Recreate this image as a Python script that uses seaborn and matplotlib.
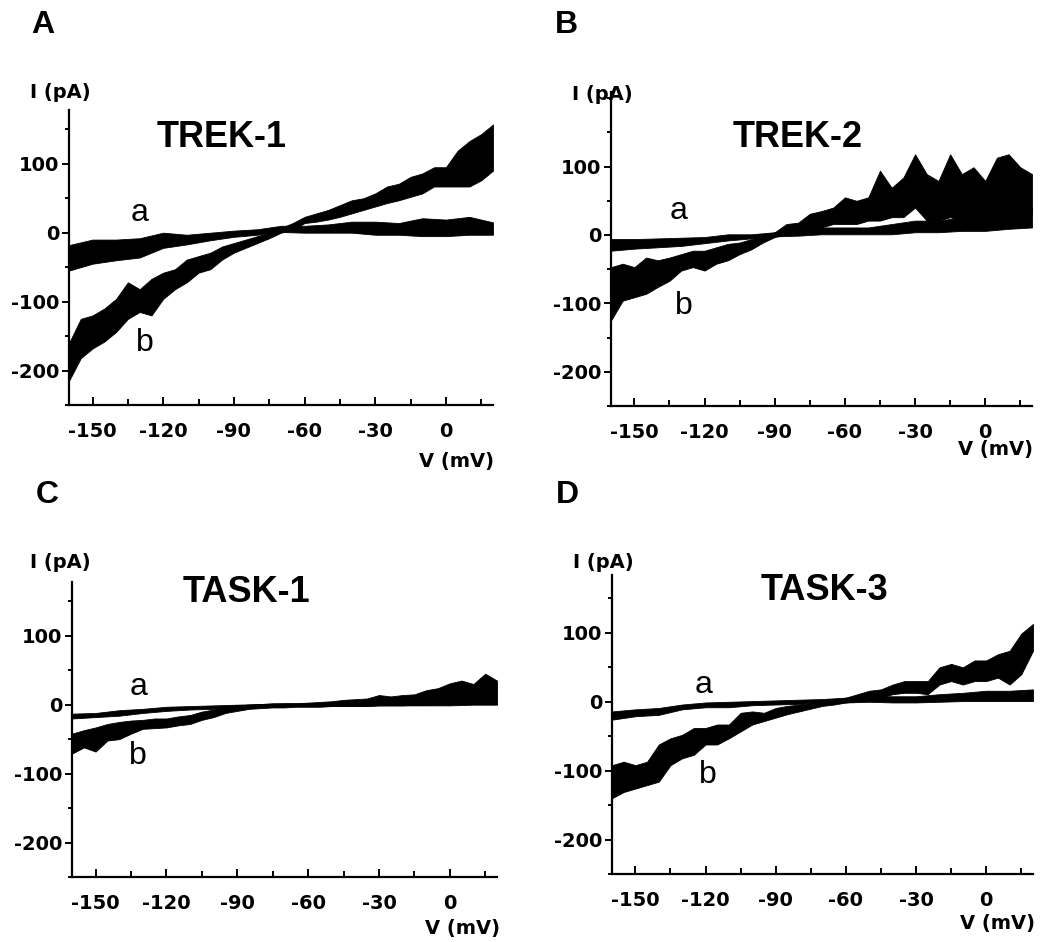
import numpy as np
import pandas as pd
import matplotlib
matplotlib.use('Agg')
import matplotlib.pyplot as plt
import seaborn as sns
from matplotlib.ticker import MultipleLocator


# voltage grids (mV)
V_COARSE = np.arange(-160, 21, 10)   # control traces "a"
V_FINE = np.arange(-160, 21, 5)      # noisy traces "b"

# each trace is stored as the lower / upper edge of the noisy record (pA)
TREK1_A_LO = [-55, -45, -40, -36, -22, -17, -11, -6, -3, 1, 0, 0, 0, -3, -3, -5, -5, -3, -3]
TREK1_A_HI = [-18, -10, -10, -8, 0, -3, 0, 3, 5, 10, 10, 12, 16, 16, 14, 21, 19, 23, 15]
TREK1_B_LO = [-215, -182, -168, -158, -144, -125, -115, -120, -96, -82, -72, -58, -53,
              -39, -29, -22, -15, -8, 0, 4, 14, 16, 19, 23, 28, 33, 38, 43, 47, 52,
              57, 67, 67, 67, 67, 76, 90]
TREK1_B_HI = [-160, -125, -120, -110, -96, -72, -82, -67, -58, -53, -39, -34, -29,
              -20, -15, -10, -5, 0, 7, 14, 23, 28, 33, 40, 47, 50, 57, 67, 71, 81,
              86, 95, 95, 119, 133, 143, 157]

TREK2_A_LO = [-23, -20, -18, -16, -12, -8, -5, -2, -1, 1, 1, 1, 1, 4, 4, 6, 6, 9, 11]
TREK2_A_HI = [-6, -6, -5, -4, -3, 1, 1, 4, 6, 11, 11, 11, 16, 21, 21, 26, 30, 35, 40]
TREK2_B_LO = [-125, -96, -91, -86, -76, -67, -52, -47, -52, -42, -37, -28, -21,
              -11, -3, 1, 6, 6, 11, 16, 16, 16, 21, 21, 26, 26, 40, 21, 21, 26,
              21, 21, 21, 26, 26, 26, 31]
TREK2_B_HI = [-47, -42, -47, -33, -37, -33, -28, -23, -23, -18, -13, -11, -6,
              -1, 4, 16, 18, 31, 35, 40, 55, 50, 55, 94, 69, 84, 118, 89, 79, 118,
              89, 99, 79, 113, 118, 99, 89]

TASK1_A_LO = [-20, -18, -16, -12, -9, -7, -6, -4, -3, -2, -2, -2, -2, -1, -1, -1, -1, 0, 0]
TASK1_A_HI = [-13, -12, -8, -6, -3, -2, -1, 0, 1, 2, 2, 3, 3, 4, 4, 5, 6, 6, 6]
TASK1_B_LO = [-71, -62, -68, -52, -50, -42, -35, -34, -33, -30, -28, -22, -18,
              -12, -9, -6, -5, -4, -4, -3, -3, -3, -2, -2, -2, -2, -1, -1, -1, 0,
              0, 1, 1, 3, 5, 6, 6]
TASK1_B_HI = [-42, -37, -33, -28, -25, -23, -22, -20, -20, -17, -15, -10, -7,
              -3, -1, 0, 1, 2, 2, 2, 3, 4, 5, 7, 8, 9, 14, 12, 14, 15,
              21, 24, 31, 35, 30, 45, 35]

TASK3_A_LO = [-26, -21, -19, -11, -8, -8, -5, -4, -3, -1, -1, 0, -1, -1, 0, 1, 1, 1, 1]
TASK3_A_HI = [-14, -11, -9, -4, -1, 0, 1, 2, 3, 4, 6, 8, 8, 8, 11, 13, 16, 16, 18]
TASK3_B_LO = [-140, -131, -126, -121, -116, -92, -82, -77, -62, -62, -53, -43, -33,
              -28, -23, -18, -14, -10, -6, -4, -1, 1, 3, 6, 11, 13, 13, 11, 25, 30,
              25, 30, 30, 35, 25, 40, 74]
TASK3_B_HI = [-92, -87, -92, -87, -62, -53, -48, -38, -38, -33, -33, -16, -14,
              -16, -9, -6, -4, -2, 1, 2, 6, 11, 16, 18, 25, 30, 30, 30, 50, 55,
              50, 60, 60, 69, 74, 99, 113]

PANEL_LETTERS = ['A', 'B', 'C', 'D']
CHANNELS = ['TREK-1', 'TREK-2', 'TASK-1', 'TASK-3']

panels = [
    dict(a=(TREK1_A_LO, TREK1_A_HI), b=(TREK1_B_LO, TREK1_B_HI)),
    dict(a=(TREK2_A_LO, TREK2_A_HI), b=(TREK2_B_LO, TREK2_B_HI)),
    dict(a=(TASK1_A_LO, TASK1_A_HI), b=(TASK1_B_LO, TASK1_B_HI)),
    dict(a=(TASK3_A_LO, TASK3_A_HI), b=(TASK3_B_LO, TASK3_B_HI)),
]
for p, letter, name in zip(panels, PANEL_LETTERS, CHANNELS):
    p['letter'] = letter
    p['name'] = name

# layout in figure pixels: axes box (left, top, right, bottom), ylim top,
# title position, label a / b positions (data coords), letter / axis-label positions
W, H = 1047, 942
layout = {
    'A': dict(box=(69, 110, 493, 405), ytop=178, title=(-95, 138),
              la=(-130, 29), lb=(-128, -160),
              letter=(31, 10), ilab=(30, 83), vlab=(494, 471)),
    'B': dict(box=(611, 92, 1032, 406), ytop=209, title=(-80, 143),
              la=(-131, 35), lb=(-129, -104),
              letter=(555, 10), ilab=(572, 85), vlab=(1033, 459)),
    'C': dict(box=(72, 582, 497, 877), ytop=178, title=(-86, 163),
              la=(-132, 26), lb=(-132, -74),
              letter=(36, 480), ilab=(30, 553), vlab=(500, 938)),
    'D': dict(box=(612, 575, 1033, 874), ytop=184, title=(-69, 162),
              la=(-121, 24), lb=(-119, -106),
              letter=(556, 480), ilab=(573, 553), vlab=(1035, 933)),
}

sns.set_style('ticks')
plt.rcParams['font.family'] = ['DejaVu Sans']
plt.rcParams['text.color'] = 'black'
plt.rcParams['axes.edgecolor'] = 'black'
plt.rcParams['xtick.color'] = 'black'
plt.rcParams['ytick.color'] = 'black'
plt.rcParams['axes.unicode_minus'] = False

fig = plt.figure(figsize=(W / 100, H / 100), dpi=100)


def px(x, y):
    return x / W, 1 - y / H


def draw_trace(ax, v, lo, hi):
    df = pd.DataFrame({'V': np.concatenate([v, v]),
                       'I': np.concatenate([lo, hi])})
    sns.lineplot(data=df, x='V', y='I', estimator='mean', errorbar=('pi', 100),
                 color='black', linewidth=1.0, ax=ax,
                 err_kws={'alpha': 1, 'linewidth': 0.6, 'edgecolor': 'black'})


for p in panels:
    lay = layout[p['letter']]
    l, t, r, b = lay['box']
    ax = fig.add_axes([l / W, 1 - b / H, (r - l) / W, (b - t) / H])

    draw_trace(ax, V_COARSE, *p['a'])
    draw_trace(ax, V_FINE, *p['b'])

    ax.set_xlim(-160, 20)
    ax.set_ylim(-250, lay['ytop'])
    ax.set_xlabel('')
    ax.set_ylabel('')
    sns.despine(ax=ax)
    for s in ['left', 'bottom']:
        ax.spines[s].set_linewidth(1.6)

    ax.set_xticks([-150, -120, -90, -60, -30, 0])
    ax.xaxis.set_minor_locator(MultipleLocator(15))
    ax.set_yticks([-200, -100, 0, 100])
    ax.yaxis.set_minor_locator(MultipleLocator(50))
    ax.tick_params(axis='x', which='both', direction='in', pad=12, width=1.4)
    ax.tick_params(axis='x', which='major', length=6)
    ax.tick_params(axis='x', which='minor', length=4)
    ax.tick_params(axis='y', which='both', direction='out', pad=2, width=1.4)
    ax.tick_params(axis='y', which='major', length=5)
    ax.tick_params(axis='y', which='minor', length=3)
    for lab in ax.get_xticklabels() + ax.get_yticklabels():
        lab.set_fontsize(14)
        lab.set_fontweight('bold')

    ax.text(*lay['title'], p['name'], ha='center', va='center', fontsize=26,
            fontweight='bold', family='Liberation Sans')
    ax.text(*lay['la'], 'a', ha='center', va='center', fontsize=23,
            family='Liberation Sans')
    ax.text(*lay['lb'], 'b', ha='center', va='center', fontsize=23,
            family='Liberation Sans')

    fig.text(*px(*lay['letter']), p['letter'], ha='left', va='top', fontsize=23,
             fontweight='bold', family='Liberation Sans')
    fig.text(*px(*lay['ilab']), 'I (pA)', ha='left', va='top', fontsize=14,
             fontweight='bold')
    fig.text(*px(*lay['vlab']), 'V (mV)', ha='right', va='bottom', fontsize=14,
             fontweight='bold')

fig.savefig('out.png', dpi=100)
